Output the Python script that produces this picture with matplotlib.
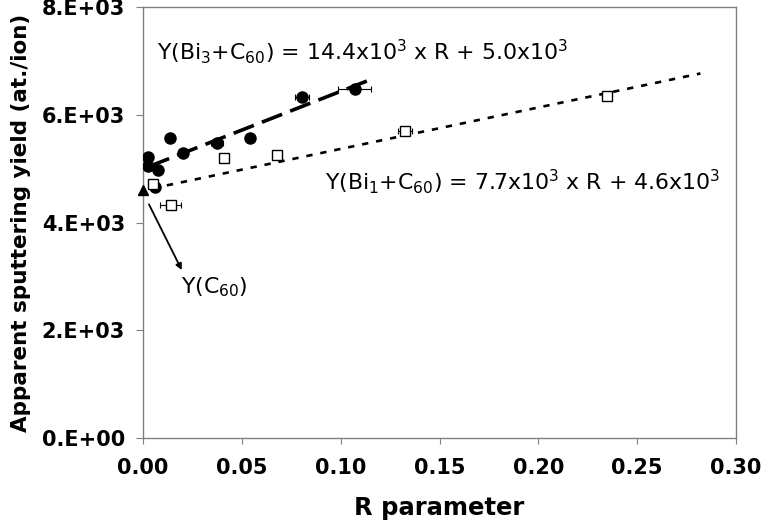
import matplotlib
matplotlib.use("Agg")
import matplotlib.pyplot as plt

# Data
bi3_R = [0.0027, 0.0027, 0.0061, 0.0075, 0.0137, 0.0204, 0.0373, 0.0542, 0.0804, 0.1070]
bi3_Y = [5222, 5060, 4664, 4986, 5575, 5296, 5482, 5575, 6332, 6474]
bi3_xerr = [0, 0, 0, 0, 0, 0, 0.0030, 0, 0.0035, 0.0082]

bi1_R = [0.0052, 0.0140, 0.0410, 0.0677, 0.1325, 0.2346]
bi1_Y = [4725, 4335, 5203, 5265, 5711, 6362]
bi1_xerr = [0.0015, 0.0053, 0, 0, 0.0035, 0]

bi3_fit = (14.4e3, 5.0e3)
bi1_fit = (7.7e3, 4.6e3)
bi3_fit_range = (0.003, 0.117)
bi1_fit_range = (0.005, 0.282)
yc60 = 4.6e3

xticks = [0.00, 0.05, 0.10, 0.15, 0.20, 0.25, 0.30]
xticklabels = ["0.00", "0.05", "0.10", "0.15", "0.20", "0.25", "0.30"]
yticks = [0, 2000, 4000, 6000, 8000]
yticklabels = ["0.E+00", "2.E+03", "4.E+03", "6.E+03", "8.E+03"]

fig = plt.figure(figsize=(7.62, 5.23), dpi=100)
ax = fig.add_axes([0.1877, 0.1625, 0.9659 - 0.1877, 0.986 - 0.1625])
ax.set_xlim(0, 0.30)
ax.set_ylim(0, 8000)

# trend lines
x1 = list(bi3_fit_range)
ax.plot(x1, [bi3_fit[0] * v + bi3_fit[1] for v in x1], color="black", lw=2.6,
        dashes=(6.0, 2.4), dash_capstyle="butt", zorder=2)
x2 = list(bi1_fit_range)
ax.plot(x2, [bi1_fit[0] * v + bi1_fit[1] for v in x2], color="black", lw=1.9,
        dashes=(2.4, 3.0), dash_capstyle="butt", zorder=2)

# error bars
ax.errorbar(bi3_R, bi3_Y, xerr=bi3_xerr, fmt="none", ecolor="black", elinewidth=0.8,
            capsize=2.5, capthick=0.8, zorder=3)
ax.errorbar(bi1_R, bi1_Y, xerr=bi1_xerr, fmt="none", ecolor="black", elinewidth=0.8,
            capsize=2.5, capthick=0.8, zorder=3)

# points
ax.plot(bi3_R, bi3_Y, "o", color="black", ms=8, zorder=4)
ax.plot(bi1_R, bi1_Y, "s", mfc="white", mec="black", mew=1.0, ms=7, zorder=4)

# intercept marker
ax.plot([0], [yc60], "^", color="black", ms=7, clip_on=False, zorder=5)

# annotations
ax.text(0.0072, 7180, r"Y(Bi$_3$+C$_{60}$) = 14.4x10$^3$ x R + 5.0x10$^3$",
        fontsize=15.8, va="center", ha="left")
ax.text(0.092, 4760, r"Y(Bi$_1$+C$_{60}$) = 7.7x10$^3$ x R + 4.6x10$^3$",
        fontsize=15.8, va="center", ha="left")
ax.text(0.0192, 2810, r"Y(C$_{60}$)", fontsize=15.8, va="center", ha="left")
ax.annotate("", xy=(0.0196, 3120), xytext=(0.003, 4340),
            arrowprops=dict(arrowstyle="-|>", color="black", lw=1.3,
                            mutation_scale=9, shrinkA=0, shrinkB=0))

ax.set_xticks(xticks)
ax.set_xticklabels(xticklabels)
ax.set_yticks(yticks)
ax.set_yticklabels(yticklabels)
for lab in ax.get_xticklabels() + ax.get_yticklabels():
    lab.set_fontweight("bold")
    lab.set_fontsize(15)
ax.tick_params(axis="y", direction="out", length=5, width=0.8, color="#808080", pad=8)
ax.tick_params(axis="x", direction="out", length=4.5, width=0.8, color="#808080", pad=10)

for s in ax.spines.values():
    s.set_color("#808080")
    s.set_linewidth(1.0)

ax.set_xlabel("R parameter", fontsize=17.5, fontweight="bold")
ax.xaxis.set_label_coords(0.5, -(496 - 438) / 431.0)
ax.set_ylabel("Apparent sputtering yield (at./ion)", fontsize=15.5, fontweight="bold")
ax.yaxis.set_label_coords(-(143 - 31) / 593.0, 0.5)

fig.savefig("out.png", dpi=100)
